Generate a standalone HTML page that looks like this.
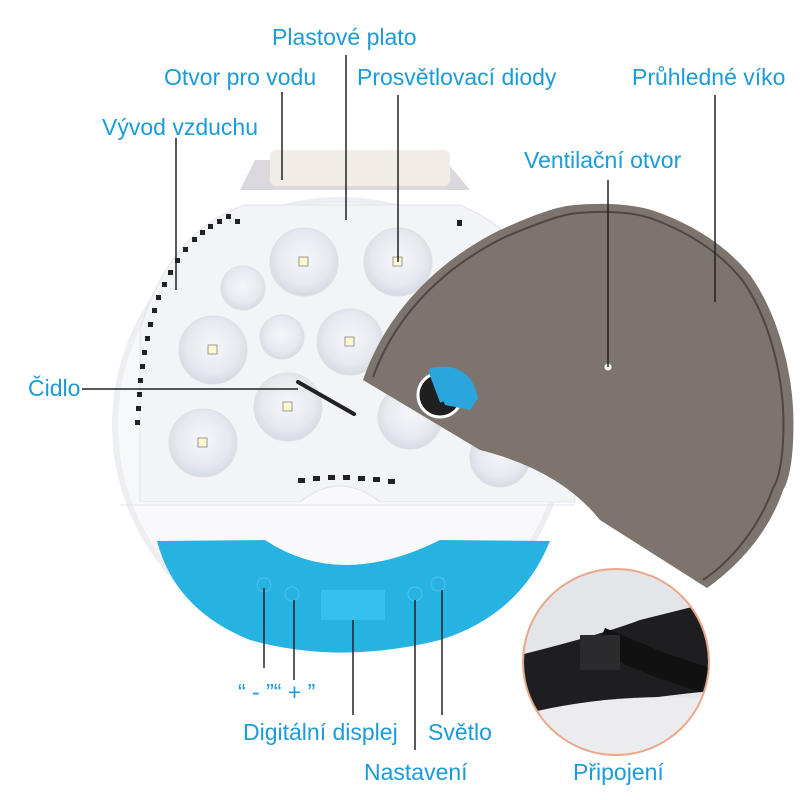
<!DOCTYPE html>
<html><head><meta charset="utf-8"><style>
html,body{margin:0;padding:0;background:#fff;}
svg{display:block}
text{font-family:"Liberation Sans",sans-serif;font-size:23px;fill:#1b9bd7;}
</style></head><body>
<svg width="800" height="800" viewBox="0 0 800 800" xmlns="http://www.w3.org/2000/svg">
<defs>
<radialGradient id="egg" cx="50%" cy="45%" r="55%"><stop offset="0" stop-color="#f4f6fa"/><stop offset="0.7" stop-color="#e6e9ef"/><stop offset="1" stop-color="#d6dae2"/></radialGradient>
<clipPath id="ins"><circle cx="616" cy="662" r="92"/></clipPath>
<clipPath id="low"><rect x="0" y="502" width="800" height="300"/></clipPath>
</defs>
<circle cx="340" cy="425" r="228" fill="#eceef2"/>
<circle cx="340" cy="425" r="222" fill="#f7f8fa"/>
<path d="M240 190 L255 160 L445 160 L470 190 Z" fill="#dcd9de"/>
<rect x="270" y="150" width="180" height="36" rx="6" fill="#f1ede5"/>
<path d="M140 502 L140 330 Q170 230 245 205 L460 205 Q540 240 570 330 L575 502 Z" fill="#f3f4f7" stroke="#e2e4e9"/>
<g fill="#222">
<rect x="135" y="420" width="5" height="5"/><rect x="136" y="406" width="5" height="5"/><rect x="137" y="392" width="5" height="5"/><rect x="138" y="378" width="5" height="5"/><rect x="140" y="364" width="5" height="5"/><rect x="142" y="350" width="5" height="5"/><rect x="145" y="336" width="5" height="5"/><rect x="148" y="322" width="5" height="5"/><rect x="152" y="308" width="5" height="5"/><rect x="156" y="295" width="5" height="5"/><rect x="162" y="282" width="5" height="5"/><rect x="168" y="270" width="5" height="5"/><rect x="175" y="258" width="5" height="5"/><rect x="183" y="247" width="5" height="5"/><rect x="192" y="237" width="5" height="5"/><rect x="200" y="230" width="5" height="5"/><rect x="208" y="224" width="5" height="5"/><rect x="217" y="219" width="5" height="5"/><rect x="226" y="214" width="5" height="5"/><rect x="235" y="219" width="5" height="5"/>
<rect x="457" y="220" width="5" height="6"/>
<rect x="298" y="478" width="7" height="5"/><rect x="313" y="476" width="7" height="5"/><rect x="328" y="475" width="7" height="5"/><rect x="343" y="475" width="7" height="5"/><rect x="358" y="476" width="7" height="5"/><rect x="373" y="477" width="7" height="5"/><rect x="388" y="479" width="7" height="5"/>
</g>
<g fill="url(#egg)" stroke="#dde0e6">
<circle cx="304" cy="262" r="34"/><circle cx="398" cy="262" r="34"/><circle cx="243" cy="288" r="22"/>
<circle cx="213" cy="350" r="34"/><circle cx="282" cy="337" r="22"/><circle cx="350" cy="342" r="33"/>
<circle cx="288" cy="407" r="34"/><circle cx="203" cy="443" r="34"/><circle cx="410" cy="417" r="32"/><circle cx="500" cy="457" r="30"/>
</g>
<g fill="#fff8d0" stroke="#999" stroke-width="1">
<rect x="299" y="257" width="9" height="9"/><rect x="393" y="257" width="9" height="9"/><rect x="208" y="345" width="9" height="9"/><rect x="345" y="337" width="9" height="9"/><rect x="283" y="402" width="9" height="9"/><rect x="198" y="438" width="9" height="9"/>
</g>
<line x1="298" y1="382" x2="354" y2="414" stroke="#222" stroke-width="4" stroke-linecap="round"/>
<circle cx="340" cy="425" r="222" fill="#f9f9fb" clip-path="url(#low)"/>
<path d="M120 505 L575 505" stroke="#e1e3e8"/>
<path d="M300 502 Q340 470 380 502" fill="#f9f9fb" stroke="#e1e3e8"/>
<path d="M157 541 L265 540 Q340 590 440 540 L550 541 Q520 615 440 640 Q340 665 250 640 Q175 610 157 541 Z" fill="#27b3e2"/>
<rect x="321" y="590" width="64" height="30" fill="#35c0ee"/>
<g fill="none" stroke="#4ec4ea"><circle cx="264" cy="585" r="7"/><circle cx="292" cy="594" r="7"/><circle cx="415" cy="594" r="7"/><circle cx="438" cy="584" r="7"/></g>
<path d="M363 380 C380 330 420 270 500 230 C540 212 560 206 575 205 C610 202 640 205 660 213 C700 228 730 250 750 275 C775 310 790 360 793 407 C795 450 790 480 783 490 C770 530 740 565 707 588 L600 520 Q560 470 480 450 Z" fill="#7c746d"/>
<path d="M373 377 C390 330 428 275 505 237 C545 220 565 214 578 213 C612 210 640 213 658 221 C696 236 724 257 743 281 C766 314 780 362 783 407 C785 448 780 478 773 488 C760 525 733 560 703 580" fill="none" stroke="#4e4844" stroke-width="2"/>
<circle cx="608" cy="367" r="3.5" fill="#fff"/>
<circle cx="440" cy="395" r="22" fill="#1f1f1f" stroke="#fff" stroke-width="3"/>
<path d="M430 368 Q470 360 478 398 L470 410 L445 405 Z" fill="#2aa6dc"/>
<line x1="430" y1="370" x2="442" y2="402" stroke="#2aa6dc" stroke-width="4"/>
<!-- inset -->
<circle cx="616" cy="662" r="94" fill="#eaa78a"/>
<g clip-path="url(#ins)">
<rect x="500" y="560" width="240" height="220" fill="#e4e5e8"/>
<path d="M520 655 Q600 635 640 620 L720 600 L720 690 Q620 700 540 715 L520 715 Z" fill="#1e1e20"/>
<path d="M520 715 Q620 690 720 700 L720 760 L520 760 Z" fill="#ececee"/>
<path d="M600 640 L660 665 L705 680" stroke="#111" stroke-width="26" fill="none"/>
<rect x="580" y="635" width="40" height="35" fill="#2b2b2d"/>
</g>
<g stroke="#222" stroke-width="1.5">
<line x1="346" y1="55" x2="346" y2="220"/>
<line x1="282" y1="92" x2="282" y2="180"/>
<line x1="398" y1="95" x2="398" y2="262"/>
<line x1="715" y1="95" x2="715" y2="302"/>
<line x1="176" y1="138" x2="176" y2="290"/>
<line x1="608" y1="180" x2="608" y2="367"/>
<line x1="82" y1="389" x2="298" y2="389"/>
<line x1="264" y1="588" x2="264" y2="668"/>
<line x1="294" y1="600" x2="294" y2="680"/>
<line x1="353" y1="620" x2="353" y2="715"/>
<line x1="415" y1="600" x2="415" y2="750"/>
<line x1="442" y1="590" x2="442" y2="715"/>
</g>
<text x="272" y="45">Plastové plato</text>
<text x="164" y="85">Otvor pro vodu</text>
<text x="357" y="85">Prosvětlovací diody</text>
<text x="632" y="85">Průhledné víko</text>
<text x="102" y="135">Vývod vzduchu</text>
<text x="524" y="168">Ventilační otvor</text>
<text x="28" y="396">Čidlo</text>
<text x="238" y="700">“ - ”“ + ”</text>
<text x="243" y="740">Digitální displej</text>
<text x="428" y="740">Světlo</text>
<text x="364" y="780">Nastavení</text>
<text x="573" y="780">Připojení</text>
</svg>
</body></html>
